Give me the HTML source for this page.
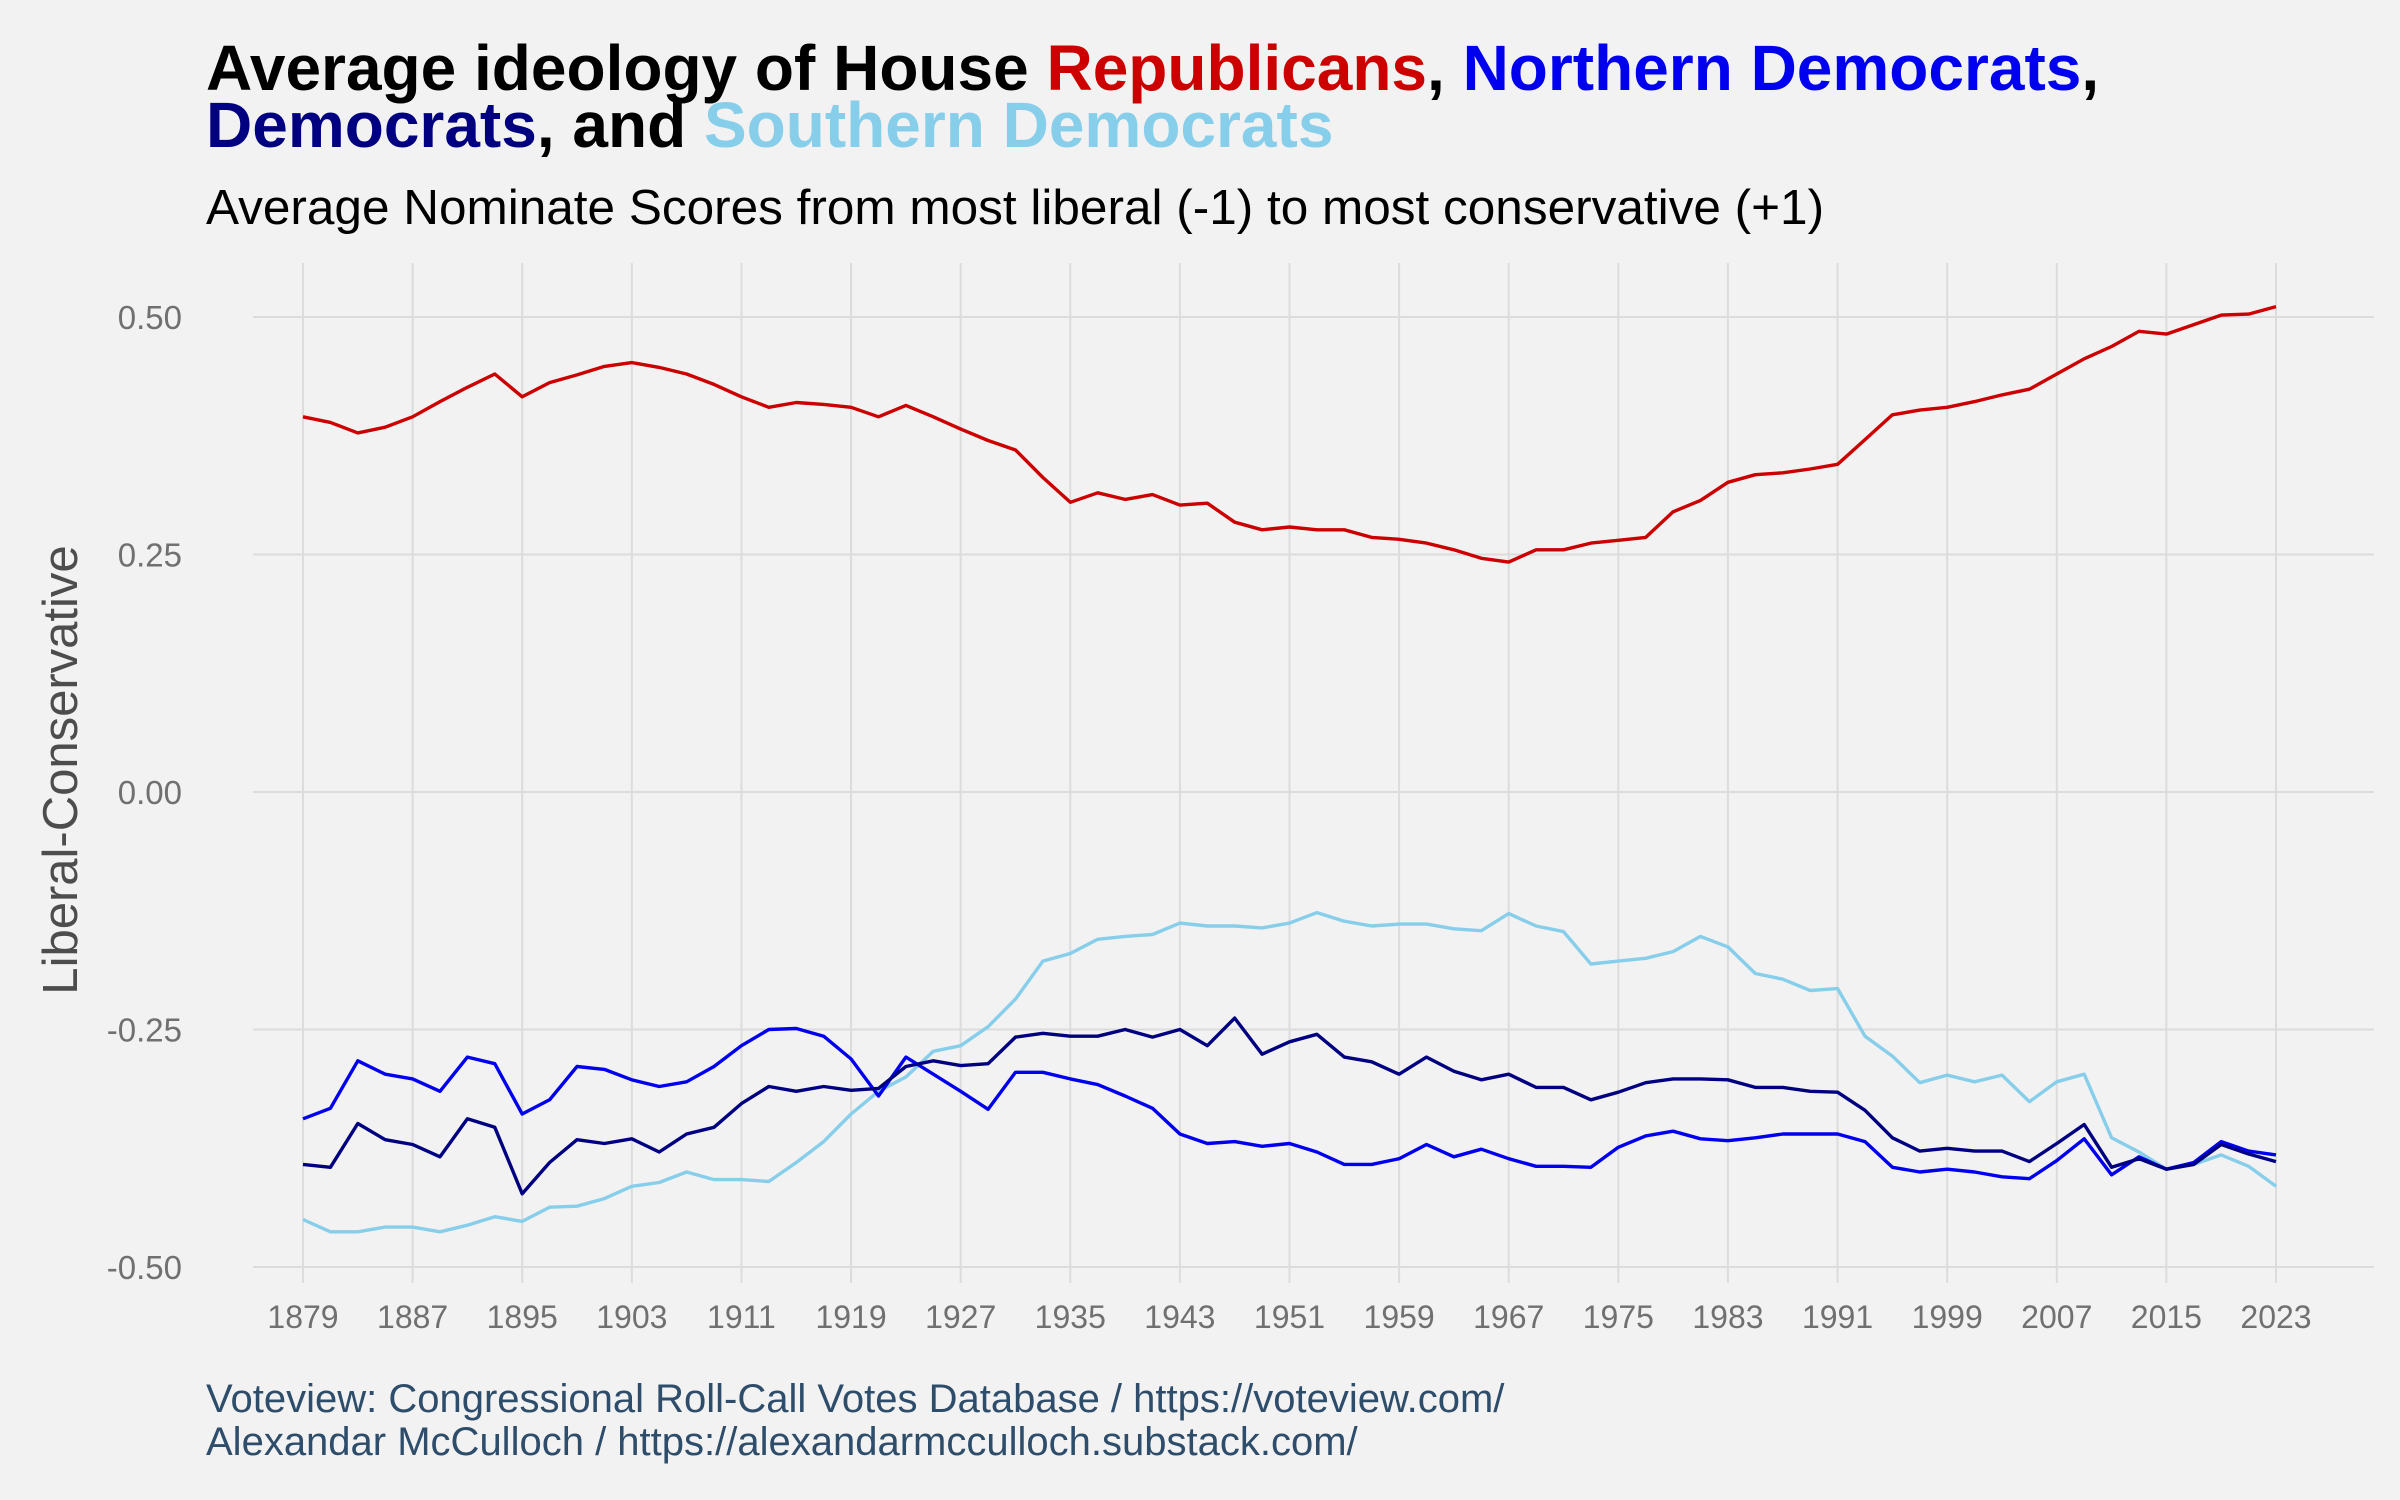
<!DOCTYPE html>
<html><head><meta charset="utf-8">
<style>
html,body{margin:0;padding:0;background:#f2f2f2;}
body{width:2400px;height:1500px;position:relative;overflow:hidden;font-family:"Liberation Sans",Arial,sans-serif;}
.t{position:absolute;white-space:nowrap;}
</style></head>
<body>
<div class="t" style="left:206px;top:40px;font-size:64px;font-weight:bold;line-height:57px;color:#000;">Average ideology of House <span style="color:#cc0000">Republicans</span>, <span style="color:#0000ee">Northern Democrats</span>,<br><span style="color:#000080">Democrats</span>, and <span style="color:#87ceeb">Southern Democrats</span></div>
<div class="t" style="left:206px;top:183px;font-size:49.5px;line-height:50px;color:#000;">Average Nominate Scores from most liberal (-1) to most conservative (+1)</div>
<div class="t" style="left:206px;top:1378px;font-size:40px;line-height:43px;color:#2e4d6b;">Voteview: Congressional Roll-Call Votes Database / https://voteview.com/<br>Alexandar McCulloch / https://alexandarmcculloch.substack.com/</div>
<svg id="chart" width="2400" height="1500" style="position:absolute;left:0;top:0;"></svg>
<script>
const years = [];
for (let y = 1879; y <= 2023; y += 2) years.push(y);
const xTicks = [1879,1887,1895,1903,1911,1919,1927,1935,1943,1951,1959,1967,1975,1983,1991,1999,2007,2015,2023];
const yTicks = [0.5,0.25,0,-0.25,-0.5];
const yTickLabels = ["0.50","0.25","0.00","-0.25","-0.50"];
const republicans = [0.395,0.389,0.378,0.384,0.395,0.411,0.426,0.440,0.416,0.431,0.439,0.448,0.452,0.447,0.440,0.429,0.416,0.405,0.410,0.408,0.405,0.395,0.407,0.395,0.382,0.370,0.360,0.331,0.305,0.315,0.308,0.313,0.302,0.304,0.284,0.276,0.279,0.276,0.276,0.268,0.266,0.262,0.255,0.246,0.242,0.255,0.255,0.262,0.265,0.268,0.295,0.307,0.326,0.334,0.336,0.340,0.345,0.371,0.397,0.402,0.405,0.411,0.418,0.424,0.440,0.456,0.469,0.485,0.482,0.492,0.502,0.503,0.511];
const northernDems = [-0.344,-0.333,-0.283,-0.297,-0.302,-0.315,-0.279,-0.286,-0.339,-0.324,-0.289,-0.292,-0.303,-0.310,-0.305,-0.289,-0.267,-0.250,-0.249,-0.257,-0.281,-0.320,-0.279,-0.297,-0.315,-0.334,-0.295,-0.295,-0.302,-0.308,-0.320,-0.333,-0.360,-0.370,-0.368,-0.373,-0.370,-0.379,-0.392,-0.392,-0.386,-0.371,-0.384,-0.376,-0.386,-0.394,-0.394,-0.395,-0.374,-0.362,-0.357,-0.365,-0.367,-0.364,-0.360,-0.360,-0.360,-0.368,-0.395,-0.400,-0.397,-0.400,-0.405,-0.407,-0.388,-0.365,-0.403,-0.384,-0.397,-0.390,-0.368,-0.378,-0.382];
const democrats = [-0.392,-0.395,-0.349,-0.366,-0.371,-0.384,-0.344,-0.353,-0.423,-0.390,-0.366,-0.370,-0.365,-0.379,-0.360,-0.353,-0.328,-0.310,-0.315,-0.310,-0.314,-0.312,-0.289,-0.283,-0.288,-0.286,-0.258,-0.254,-0.257,-0.257,-0.250,-0.258,-0.250,-0.267,-0.238,-0.276,-0.263,-0.255,-0.279,-0.284,-0.297,-0.279,-0.294,-0.303,-0.297,-0.311,-0.311,-0.324,-0.316,-0.306,-0.302,-0.302,-0.303,-0.311,-0.311,-0.315,-0.316,-0.335,-0.364,-0.378,-0.375,-0.378,-0.378,-0.389,-0.370,-0.350,-0.395,-0.386,-0.397,-0.392,-0.371,-0.381,-0.389];
const southernDems = [-0.450,-0.463,-0.463,-0.458,-0.458,-0.463,-0.456,-0.447,-0.452,-0.437,-0.436,-0.428,-0.415,-0.411,-0.400,-0.408,-0.408,-0.410,-0.390,-0.368,-0.339,-0.315,-0.300,-0.273,-0.267,-0.247,-0.218,-0.178,-0.170,-0.155,-0.152,-0.150,-0.138,-0.141,-0.141,-0.143,-0.138,-0.127,-0.136,-0.141,-0.139,-0.139,-0.144,-0.146,-0.128,-0.141,-0.147,-0.181,-0.178,-0.175,-0.168,-0.152,-0.163,-0.191,-0.197,-0.209,-0.207,-0.257,-0.278,-0.306,-0.298,-0.305,-0.298,-0.326,-0.305,-0.297,-0.364,-0.379,-0.397,-0.392,-0.382,-0.394,-0.415];

const svg = document.getElementById('chart');
const NS = 'http://www.w3.org/2000/svg';
const X0 = 303, X1 = 2276, Y0 = 317, Y1 = 1267;
const xs = y => X0 + (y - 1879) / (2023 - 1879) * (X1 - X0);
const ys = v => Y0 + (0.5 - v) / 1.0 * (Y1 - Y0);
function mk(tag, attrs) { const e = document.createElementNS(NS, tag); for (const k in attrs) e.setAttribute(k, attrs[k]); svg.appendChild(e); return e; }

yTicks.forEach((v, i) => {
  const l = mk('line', {x1: 253, x2: 2374, y1: ys(v), y2: ys(v), stroke: '#dcdcdc', 'stroke-width': 2});
  
  
  const t = mk('text', {x: 182, y: ys(v) + 12, 'text-anchor': 'end', 'font-size': 33, fill: '#707070', 'font-family': 'Liberation Sans, Arial, sans-serif'});
  t.textContent = yTickLabels[i];
  
  
});
xTicks.forEach(yr => {
  const l = mk('line', {x1: xs(yr), x2: xs(yr), y1: 263, y2: 1283, stroke: '#dcdcdc', 'stroke-width': 2});
  
  
  const t = mk('text', {x: xs(yr), y: 1328, 'text-anchor': 'middle', 'font-size': 32, fill: '#707070', 'font-family': 'Liberation Sans, Arial, sans-serif'});
  t.textContent = yr;
  
  
});
const yt = mk('text', {x: 0, y: 0, transform: 'translate(77,770) rotate(-90)', 'text-anchor': 'middle', 'font-size': 49, fill: '#4d4d4d', 'font-family': 'Liberation Sans, Arial, sans-serif'});
yt.textContent = 'Liberal-Conservative';



function series(vals, color, name) {
  const d = vals.map((v, i) => (i ? 'L' : 'M') + xs(years[i]).toFixed(1) + ',' + ys(v).toFixed(1)).join(' ');
  const p = mk('path', {d: d, fill: 'none', stroke: color, 'stroke-width': 3.4, 'stroke-linejoin': 'round'});
  
  
}
series(southernDems, '#87ceeb', 'southern-democrats-line');
series(northernDems, '#0000ee', 'northern-democrats-line');
series(democrats, '#000080', 'democrats-line');
series(republicans, '#cc0000', 'republicans-line');
</script>
</body></html>
